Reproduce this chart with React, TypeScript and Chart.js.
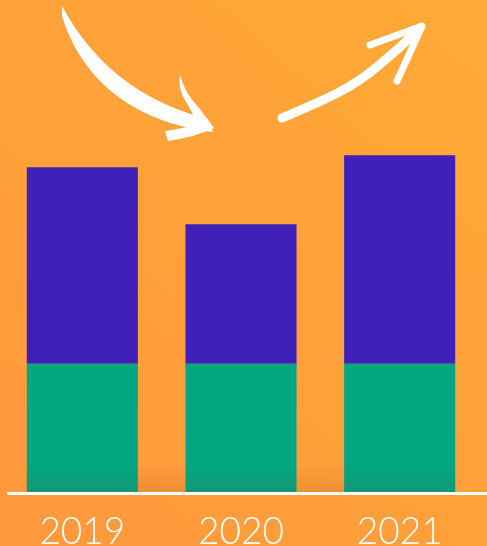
import React, { useEffect, useRef } from "react";
import { Chart, registerables } from "chart.js";

Chart.register(...registerables);

const categories = ["2019", "2020", "2021"];
const baseValues = [40, 40, 40];
const topValues = [61.25, 43.5, 65];
const yMax = 150;

const W = 487;
const H = 546;

const decorPlugin = {
  id: "decor",
  beforeDraw(chart: any) {
    const ctx = chart.ctx;
    ctx.save();
    const g = ctx.createLinearGradient(0, H, W, 0);
    g.addColorStop(0, "#FF983D");
    g.addColorStop(1, "#FFAA36");
    ctx.fillStyle = g;
    ctx.fillRect(0, 0, W, H);
    ctx.restore();
  },
  afterDatasetsDraw(chart: any) {
    const ctx = chart.ctx;
    const area = chart.chartArea;
    const meta = chart.getDatasetMeta(0);
    const first = meta.data[0];
    const last = meta.data[meta.data.length - 1];
    const x0 = first.x - first.width / 2;
    const x1 = last.x + last.width / 2;
    const yb = area.bottom;
    ctx.save();
    const sg = ctx.createLinearGradient(0, yb - 28, 0, yb);
    sg.addColorStop(0, "rgba(120,50,10,0)");
    sg.addColorStop(1, "rgba(120,50,10,0.13)");
    ctx.fillStyle = sg;
    ctx.fillRect(x0, yb - 28, x1 - x0, 28);
    ctx.fillStyle = "#FFFFFF";
    ctx.fillRect(7, yb, W - 7, 3);

    ctx.strokeStyle = "#FFFFFF";
    ctx.fillStyle = "#FFFFFF";
    ctx.lineCap = "round";
    ctx.lineJoin = "round";
    // left arrow: tapered shaft
    ctx.beginPath();
    ctx.moveTo(62, 6);
    ctx.bezierCurveTo(92, 62, 140, 102, 208, 119);
    ctx.lineTo(213, 132);
    ctx.bezierCurveTo(130, 122, 80, 76, 62, 16);
    ctx.closePath();
    ctx.fill();
    // head of left arrow
    ctx.beginPath();
    ctx.moveTo(180, 75);
    ctx.quadraticCurveTo(184, 92, 199, 108);
    ctx.lineTo(214, 128);
    ctx.quadraticCurveTo(195, 137, 168, 141);
    ctx.lineTo(165, 131);
    ctx.quadraticCurveTo(185, 128, 198, 124);
    ctx.quadraticCurveTo(190, 108, 183, 97);
    ctx.quadraticCurveTo(178, 85, 180, 75);
    ctx.closePath();
    ctx.fill();

    // right arrow
    ctx.lineWidth = 9;
    ctx.beginPath();
    ctx.moveTo(282, 118);
    ctx.bezierCurveTo(320, 102, 350, 90, 378, 66);
    ctx.quadraticCurveTo(400, 48, 420, 28);
    ctx.stroke();
    ctx.lineWidth = 7;
    ctx.beginPath();
    ctx.moveTo(370, 45);
    ctx.lineTo(422, 26);
    ctx.lineTo(397, 81);
    ctx.stroke();
    ctx.restore();
  },
};

export default function App() {
  const ref = useRef<HTMLCanvasElement | null>(null);
  useEffect(() => {
    document.body.style.margin = "0";
    const canvas = ref.current!;
    const chart = new Chart(canvas, {
      type: "bar",
      data: {
        labels: categories,
        datasets: [
          {
            label: "base",
            data: baseValues,
            backgroundColor: "#03A883",
            borderWidth: 0,
            categoryPercentage: 0.7,
            barPercentage: 1,
          },
          {
            label: "top",
            data: topValues,
            backgroundColor: "#3F21BA",
            borderWidth: 0,
            categoryPercentage: 0.7,
            barPercentage: 1,
          },
        ],
      },
      options: {
        responsive: false,
        animation: false,
        layout: { padding: { left: 3, right: 8, top: 11, bottom: -27 } },
        plugins: {
          legend: { display: false },
          tooltip: { enabled: false },
        },
        scales: {
          x: {
            stacked: true,
            grid: { display: false, drawTicks: false },
            border: { display: false },
            ticks: {
              color: "#FFFFFF",
              padding: 22,
              font: { family: "Lato, 'Liberation Sans', sans-serif", size: 37, weight: "300", lineHeight: 1 },
            },
          },
          y: {
            stacked: true,
            display: false,
            min: 0,
            max: yMax,
          },
        },
      },
      plugins: [decorPlugin],
    });
    return () => chart.destroy();
  }, []);
  return (
    <div style={{ position: "fixed", left: 0, top: 0, width: W, height: H }}>
      <canvas ref={ref} width={W} height={H} style={{ display: "block" }} />
    </div>
  );
}
